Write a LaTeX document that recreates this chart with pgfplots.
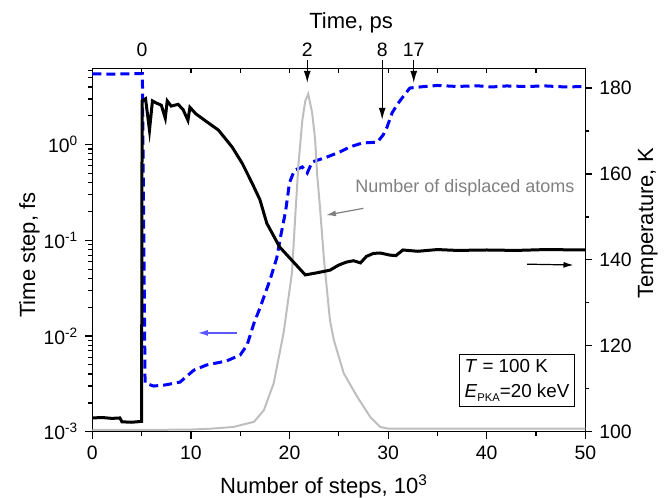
\documentclass[border=0pt]{standalone}
\usepackage{fontspec}
\setmainfont{Liberation Sans}
\usepackage{pgfplots}
\pgfplotsset{compat=1.18}
\usetikzlibrary{arrows.meta}
\definecolor{dispgray}{RGB}{190,190,190}
\definecolor{txtgray}{RGB}{128,128,128}
\definecolor{arrblue}{RGB}{90,90,255}
\pgfplotsset{
  base/.style={
    scale only axis, width=246.5pt, height=181.7pt,
    xmin=0, xmax=50,
    /pgf/number format/assume math mode=true,
    tick label style={font=\fontsize{9.7}{11}\selectfont},
    axis line style={line width=0.75pt,-},
    tick style={black, line width=0.6pt},
    major tick length=3.5pt, minor tick length=2pt,
  }
}
\begin{document}
\begin{tikzpicture}
% left axis: time step (log)
\begin{axis}[base,
  ymode=log, ymin=1e-3, ymax=6.27,
  axis x line*=bottom, axis y line*=left,
  tick align=outside,
  xtick={0,10,20,30,40,50}, minor xtick={5,15,25,35,45},
  ytick={1e-3,1e-2,1e-1,1},
  yticklabels={10\textsuperscript{-3},10\textsuperscript{-2},10\textsuperscript{-1},10\textsuperscript{0}},
  minor ytick={2e-3,3e-3,4e-3,5e-3,6e-3,7e-3,8e-3,9e-3,2e-2,3e-2,4e-2,5e-2,6e-2,7e-2,8e-2,9e-2,0.2,0.3,0.4,0.5,0.6,0.7,0.8,0.9,2,3,4,5,6},
]
\addplot[blue, line width=1.5pt, dash pattern=on 4.5pt off 2.5pt] coordinates {
(0,5.5) (2,5.45) (4,5.5) (5.08,5.5) (5.35,0.00323) (6.2,0.0030) (7.4,0.00308) (8.9,0.0033)
(10.3,0.0044) (11.6,0.00498) (13.6,0.00548) (15.0,0.00633) (15.7,0.00805) (16.4,0.01367)
(17.0,0.0196) (18.0,0.038) (18.7,0.065) (19.1,0.11) (19.6,0.2) (20.0,0.4) (20.5,0.54)
(21.3,0.584) (21.8,0.505) (22.3,0.658) (23.8,0.741) (25.1,0.838) (26.1,0.944) (27.4,1.04)
(28.9,1.06) (29.5,1.26) (29.9,1.53) (30.4,2.14) (30.9,2.6) (31.5,3.15) (32.2,3.9)
(33.2,4.0) (35,4.15) (37,4.05) (39,4.12) (40.5,4.0) (42,4.1) (44,4.05) (46,4.1) (48,4.0) (50,4.05)
};
\end{axis}
% top axis ticks
\begin{axis}[base,
  ymin=0, ymax=1,
  axis x line*=top, axis y line=none,
  tick align=inside,
  xtick={5,10,...,45}, xticklabels={},
  major tick length=2.5pt,
]
\end{axis}
% right axis: temperature
\begin{axis}[base,
  ymin=100, ymax=184.6,
  axis y line*=right, axis x line=none,
  tick align=outside,
  ytick={100,120,140,160,180}, minor ytick={110,130,150,170},
  clip=false,
]
\addplot[dispgray, line width=1pt] coordinates {
(0,100.4) (5,100.4) (10,100.5) (12,100.7) (14.3,101.1) (16.4,102.3) (17.4,105) (18.4,111.3)
(19.4,123) (20.25,137) (20.6,150.8) (20.9,162) (21.3,172.5) (21.6,177) (21.9,178.6)
(22.3,174.2) (22.6,168) (22.8,160) (23.1,152) (23.5,140) (24.1,126) (24.5,121.3)
(25.5,113.6) (26.9,108) (28.2,103.4) (29.2,101.1) (30,100.7) (50,100.7)
};
\addplot[black, line width=1.5pt] coordinates {
(0,103.2) (1,103.3) (2,103.1) (2.8,103.2) (3.0,102.3) (4,102.2) (5.0,102.4) (5.05,177)
(5.4,177.5) (5.8,170.2) (6.1,177) (6.5,176.5) (7.0,176) (7.4,173) (7.6,177) (8.0,175.8)
(8.7,176.2) (9.2,175) (9.7,172.5) (9.9,175.5) (10.5,174) (11.1,173) (11.7,172) (12.8,170.2)
(14.2,166.2) (15.2,162.5) (16.2,157.9) (17.0,154) (17.7,148.5) (19.0,143) (20.4,139.5)
(21.6,136.5) (22.8,137) (24.1,137.6) (25.0,138.8) (25.8,139.5) (26.5,139.8) (27.2,139.3)
(27.8,140.8) (28.5,141.5) (29.2,141.6) (30.2,141.1) (30.8,141.0) (31.5,142.3) (33,142.0)
(35,142.4) (37,142.2) (40,142.3) (43,142.2) (46,142.4) (50,142.3)
};
% axis titles
\node[anchor=base, font=\fontsize{11}{12}\selectfont] at (axis cs:23.5,85.73) {Number of steps, 10\textsuperscript{3}};
\node[anchor=base, rotate=90, font=\fontsize{11}{12}\selectfont] at (axis cs:-5.81,141.1) {Time step, fs};
\node[anchor=base, rotate=90, font=\fontsize{11}{12}\selectfont] at (axis cs:56.87,148.5) {Temperature, K};
\node[anchor=base, font=\fontsize{11}{12}\selectfont] at (axis cs:26.24,193.97) {Time, ps};
% top labels and arrows
\begin{scope}[font=\fontsize{9.7}{11}\selectfont]
\node[anchor=base] at (axis cs:5.05,187.3) {0};
\node[anchor=base] at (axis cs:21.8,187.3) {2};
\node[anchor=base] at (axis cs:29.4,187.3) {8};
\node[anchor=base] at (axis cs:32.6,187.3) {17};
\end{scope}
\draw[-{Latex[length=6pt,width=3.5pt]}, line width=0.6pt] (axis cs:21.8,186.5) -- (axis cs:21.8,181.2);
\draw[-{Latex[length=6pt,width=3.5pt]}, line width=0.6pt] (axis cs:29.4,186.5) -- (axis cs:29.4,172.6);
\draw[-{Latex[length=6pt,width=3.5pt]}, line width=0.6pt] (axis cs:32.6,186.5) -- (axis cs:32.6,181.2);
% annotations
\node[anchor=base west, text=txtgray, font=\fontsize{9}{11}\selectfont, inner sep=0pt] at (axis cs:26.64,155.6) {Number of displaced atoms};
\draw[txtgray, line width=0.6pt, -{Latex[length=5pt,width=3pt]}] (axis cs:27.5,152.0) -- (axis cs:23.7,150.4);
\draw[arrblue, line width=0.7pt, -{Latex[length=5pt,width=3pt]}] (axis cs:14.7,123.0) -- (axis cs:10.7,123.0);
\draw[black, line width=0.6pt, -{Latex[length=5pt,width=3pt]}] (axis cs:44.1,139.0) -- (axis cs:48.8,138.8);
\node[draw, line width=0.6pt, anchor=north west, align=left, inner sep=2.5pt,
      font=\fontsize{9.4}{12.5}\selectfont] at (axis cs:37.2,118.1)
  {\textit{T} = 100 K\\\textit{E}\raisebox{-0.35ex}{\fontsize{5.6}{6}\selectfont PKA}=20 keV};
\end{axis}
\pgfresetboundingbox
\path (-46.15pt,-32.65pt) rectangle (287.35pt,215.85pt);
\end{tikzpicture}
\end{document}
